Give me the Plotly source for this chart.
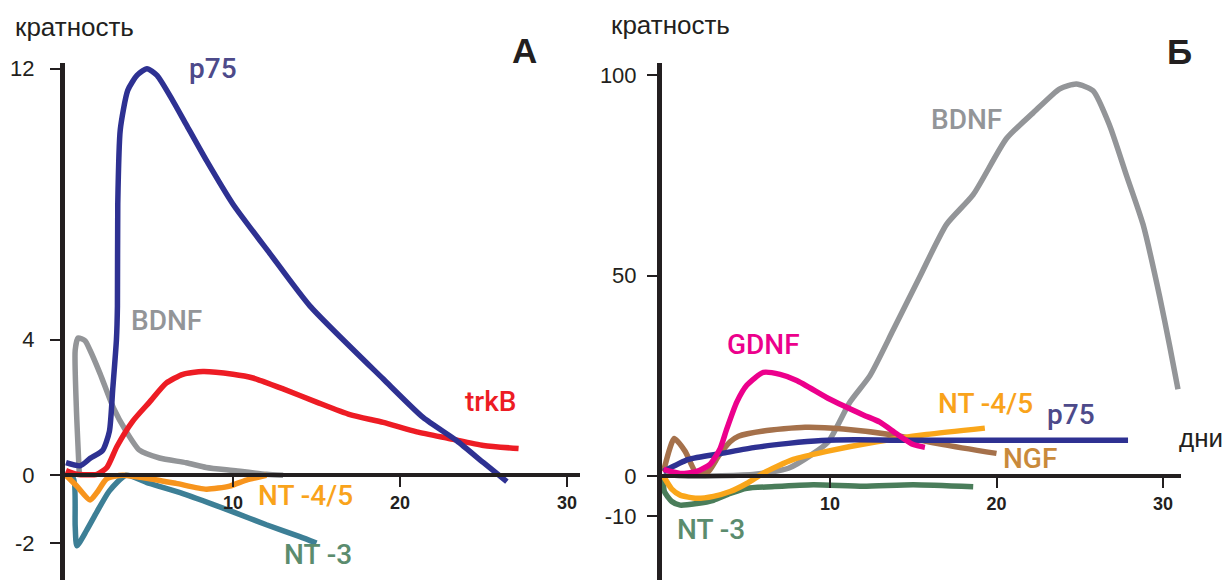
import plotly.graph_objects as go

# ---------------- DATA (panel А) ----------------
days_ticks = [10, 20, 30]
yticks_A = [-2, 0, 4, 12]
yticks_B = [-10, 0, 50, 100]

p75_A_x = [0, 0.85, 1.45, 2.2, 2.6, 2.8, 3.02, 3.08, 3.1, 3.25, 3.7, 4.25, 4.85, 5.45, 6.4, 7.2, 8.4, 10.0, 12.2, 14.6, 19.0, 21.4, 23.4, 25.0, 26.4]
p75_A_y = [0.37, 0.28, 0.5, 0.74, 1.3, 2.55, 4.0, 5.0, 8.0, 10.2, 11.36, 11.8, 12.0, 11.8, 11.05, 10.35, 9.3, 8.0, 6.55, 5.0, 2.84, 1.7, 1.02, 0.37, -0.19]

trkB_A_x = [0, 0.65, 1.85, 2.45, 3.05, 4.0, 5.0, 6.0, 7.0, 8.2, 10.0, 11.2, 13.0, 15.0, 17.0, 19.0, 21.0, 23.0, 25.0, 27.1]
trkB_A_y = [0.14, 0.03, 0.03, 0.23, 0.85, 1.6, 2.16, 2.72, 2.98, 3.06, 2.98, 2.87, 2.55, 2.16, 1.79, 1.56, 1.28, 1.08, 0.88, 0.79]

bdnf_A_x = [0.8, 0.62, 0.55, 0.72, 1.14, 1.44, 2.04, 2.84, 3.6, 4.4, 5.6, 7.2, 8.4, 10.0, 12.0, 13.0]
bdnf_A_y = [0.0, 2.0, 3.69, 4.05, 3.97, 3.69, 3.0, 1.99, 1.3, 0.74, 0.51, 0.37, 0.23, 0.14, 0.03, 0.0]

nt45_A_x = [0, 0.65, 1.44, 1.85, 2.45, 3.4, 5.0, 6.6, 8.4, 9.8, 10.8, 12.0]
nt45_A_y = [0, -0.32, -0.73, -0.51, -0.1, 0, -0.1, -0.24, -0.41, -0.32, -0.14, 0]

nt3_A_x = [0, 0.45, 0.55, 0.65, 1.24, 1.85, 2.6, 3.6, 5.0, 7.0, 10.0, 12.0, 14.0, 15.0]
nt3_A_y = [0, -0.1, -1.5, -2.08, -1.62, -1.08, -0.46, 0, -0.24, -0.54, -1.08, -1.46, -1.81, -2.0]

# ---------------- DATA (panel Б) ----------------
bdnf_B_x = [0, 1.5, 5.5, 7.5, 8.9, 9.9, 11.2, 12.4, 13.8, 15.4, 17.0, 18.6, 20.6, 22.2, 23.8, 24.8, 25.8, 26.8, 27.8, 28.8, 29.8, 30.4, 30.9]
bdnf_B_y = [0.5, 0, 0.5, 2, 5.4, 8.6, 18.5, 25.1, 36.5, 49.8, 62.8, 70.2, 84.2, 90.6, 96.6, 97.8, 96.1, 87.4, 75.1, 62.8, 44.8, 32.5, 21.7]

gdnf_B_x = [0, 1.0, 2.0, 2.8, 3.4, 3.8, 4.4, 5.0, 6.0, 7.0, 8.0, 10.0, 12.0, 13.0, 14.0, 15.0, 15.7]
gdnf_B_y = [1.7, 0.7, 1.2, 3.0, 6.9, 11.8, 18.5, 22.7, 25.9, 25.4, 23.9, 19.2, 15.3, 13.5, 10.6, 7.9, 7.2]

p75_B_x = [0, 1.5, 3.5, 5.5, 7.5, 9.5, 11.5, 14.0, 20.0, 27.9]
p75_B_y = [1.2, 4.2, 5.7, 7.2, 8.2, 8.9, 9.1, 9.0, 9.0, 9.0]

ngf_B_x = [0, 0.65, 1.3, 2.05, 2.7, 3.3, 4.0, 4.5, 6.0, 8.5, 10.8, 13.8, 16.8, 20.0]
ngf_B_y = [1.2, 9.4, 6.2, 0.3, 1.2, 5.0, 8.6, 10.0, 11.3, 12.2, 11.8, 10.3, 7.9, 5.7]

nt45_B_x = [0, 0.5, 1.0, 2.0, 3.0, 4.0, 5.0, 6.0, 7.8, 9.8, 12.8, 15.8, 19.3]
nt45_B_y = [0, -3.2, -4.7, -5.5, -5.0, -3.8, -1.8, 0.8, 4.2, 6.2, 8.6, 10.4, 12.0]

nt3_B_x = [0, 0.05, 0.5, 1.0, 2.0, 3.0, 4.0, 5.0, 6.5, 9.0, 12.0, 15.0, 18.6]
nt3_B_y = [0, -3.8, -6.3, -7.2, -6.8, -6.0, -4.3, -3.0, -2.6, -2.1, -2.5, -2.1, -2.6]

# ---------------- STYLE ----------------
W, H = 1226, 580
BLACK = "#231f20"
C_P75 = "#2e3192"
C_P75_LAB = "#4d4a8a"
C_TRKB = "#ed1c24"
C_BDNF = "#939598"
C_NT45_A = "#f7941d"
C_NT45_B = "#faa61a"
C_NT45_LAB = "#f9a31b"
C_NT3_A = "#3d7f96"
C_NT3_B = "#4a7d5a"
C_NT3_LAB = "#5b8c6e"
C_GDNF = "#ec008c"
C_NGF = "#a5714b"
C_NGF_LAB = "#c98a3b"

LAB_FONT = "Roboto, Liberation Sans, Arial, sans-serif"
TXT_FONT = "Liberation Sans, Arial, sans-serif"
LW = 5.5

top_px = 57
dom_top = 1 - top_px / H

# panel A scale
yA_max = (474 - top_px) / 34.3
yA_min = (474 - 580) / 34.3
xA_range = [-1 / 16.7, (580 - 66) / 16.7]
# panel B scale
yB_max = (475 - top_px) / 4.06
yB_min = (475 - 580) / 4.06
xB_right = 1181
xB_range = [-1.5 / 16.65, (xB_right - 663.5) / 16.65]

fig = go.Figure()


def add_line(x, y, color, axes):
    fig.add_trace(go.Scatter(
        x=x, y=y, mode="lines", xaxis=axes[0], yaxis=axes[1],
        line=dict(color=color, width=LW, shape="spline", smoothing=0.6),
        hoverinfo="skip", showlegend=False))


A = ("x", "y")
B = ("x2", "y2")
add_line(bdnf_A_x, bdnf_A_y, C_BDNF, A)
add_line(nt3_A_x, nt3_A_y, C_NT3_A, A)
add_line(nt45_A_x, nt45_A_y, C_NT45_A, A)
add_line(trkB_A_x, trkB_A_y, C_TRKB, A)
add_line(p75_A_x, p75_A_y, C_P75, A)

add_line(bdnf_B_x, bdnf_B_y, C_BDNF, B)
add_line(nt3_B_x, nt3_B_y, C_NT3_B, B)
add_line(ngf_B_x, ngf_B_y, C_NGF, B)
add_line(nt45_B_x, nt45_B_y, C_NT45_B, B)
add_line(p75_B_x, p75_B_y, C_P75, B)
add_line(gdnf_B_x, gdnf_B_y, C_GDNF, B)


def xaxis_cfg(domain, rng, ymin, ymax):
    pos = (0 - ymin) / (ymax - ymin) * dom_top
    return dict(domain=domain, range=rng, anchor="free", position=pos,
                showline=True, linewidth=4, linecolor=BLACK,
                ticks="outside", ticklen=10, tickwidth=2, tickcolor=BLACK,
                tickvals=days_ticks, ticktext=[str(v) for v in days_ticks],
                tickfont=dict(family=TXT_FONT, size=18, color=BLACK, weight="bold"),
                showgrid=False, zeroline=False, fixedrange=True)


def yaxis_cfg(anchor, rng, tv, standoff):
    return dict(domain=[0, dom_top], range=rng, anchor=anchor,
                showline=True, linewidth=5, linecolor=BLACK,
                ticks="outside", ticklen=10, tickwidth=2, tickcolor=BLACK,
                tickvals=tv, ticktext=[str(v) for v in tv],
                tickfont=dict(family=TXT_FONT, size=22, color=BLACK),
                ticklabelstandoff=standoff,
                showgrid=False, zeroline=False, fixedrange=True)


fig.update_layout(
    width=W, height=H, margin=dict(l=0, r=0, t=0, b=0),
    paper_bgcolor="white", plot_bgcolor="white", showlegend=False,
    xaxis=xaxis_cfg([65 / W, 580 / W], xA_range, yA_min, yA_max),
    yaxis=yaxis_cfg("x", [yA_min, yA_max], yticks_A, 11),
    xaxis2=xaxis_cfg([662 / W, xB_right / W], xB_range, yB_min, yB_max),
    yaxis2=yaxis_cfg("x2", [yB_min, yB_max], yticks_B, 6),
)

BASE_SHIFT = 6


def label(text, xc, baseline, color, size=28, weight=500, family=LAB_FONT):
    yc = baseline - BASE_SHIFT - 0.35 * size
    fig.add_annotation(
        text=text, x=xc / W, y=1 - yc / H, xref="paper", yref="paper",
        xanchor="center", yanchor="middle", showarrow=False,
        font=dict(family=family, size=size, color=color, weight=weight))


# axis titles / panel letters
label("кратность", 74.5, 35, BLACK, size=26, weight=400, family=TXT_FONT)
label("кратность", 670, 33, BLACK, size=26, weight=400, family=TXT_FONT)
label("дни", 1201, 451, BLACK, size=26, weight=400, family=TXT_FONT)
label("А", 524, 62, BLACK, size=35, weight=700, family=TXT_FONT)
label("Б", 1179, 63, BLACK, size=35, weight=700, family=TXT_FONT)

# curve labels, panel A
label("p75", 213, 78, C_P75_LAB)
label("BDNF", 166, 333, C_BDNF)
label("trkB", 491, 415, C_TRKB)
label("NT -4/5", 305, 510, C_NT45_LAB)
label("NT -3", 318, 570, C_NT3_LAB)

# curve labels, panel Б
label("BDNF", 966, 130, C_BDNF)
label("GDNF", 763, 357, C_GDNF)
label("NT -4/5", 985, 417, C_NT45_LAB)
label("p75", 1071, 428, C_P75_LAB)
label("NGF", 1030, 473, C_NGF_LAB)
label("NT -3", 711, 545, C_NT3_LAB)

fig.write_html(
    "out.html",
    config={"displayModeBar": False, "staticPlot": True},
    post_script="document.body.style.margin='0';document.body.style.overflow='hidden';",
)
